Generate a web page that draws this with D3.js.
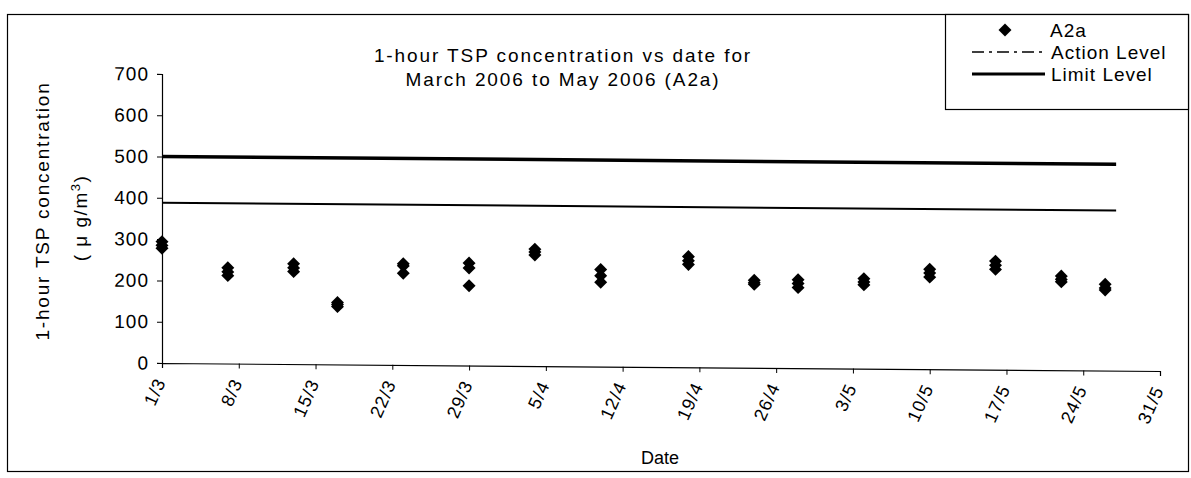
<!DOCTYPE html>
<html><head><meta charset="utf-8">
<script src="https://cdn.jsdelivr.net/npm/d3@7"></script>
<style>
body{margin:0;background:#fff}
svg text{font-family:"Liberation Sans",Arial,sans-serif;fill:#000}
</style>
</head><body><svg id="c" width="1191" height="478"></svg>
<script>
// ---- data ----
const dates = ["2006-03-01","2006-03-07","2006-03-13","2006-03-17","2006-03-23","2006-03-29","2006-04-04","2006-04-10","2006-04-18","2006-04-24","2006-04-28","2006-05-04","2006-05-10","2006-05-16","2006-05-22","2006-05-26"];
const reading1 = [294,232,243,150,245,248,283,235,268,212,214,218,242,263,228,209];
const reading2 = [285,222,233,145,240,236,276,220,258,206,205,210,233,253,220,200];
const reading3 = [278,213,224,140,222,193,269,204,249,202,195,203,223,243,214,195];
const levelDates = ["2006-03-01","2006-05-27"];
const actionLevel = [388,388];
const limitLevel = [500,500];
const xTickDates = ["2006-03-01","2006-03-08","2006-03-15","2006-03-22","2006-03-29","2006-04-05","2006-04-12","2006-04-19","2006-04-26","2006-05-03","2006-05-10","2006-05-17","2006-05-24","2006-05-31"];
const yTicks = [0,100,200,300,400,500,600,700];
const titleLines = ["1-hour TSP concentration vs date for","March 2006 to May 2006 (A2a)"];
const legendNames = ["A2a","Action Level","Limit Level"];

// ---- chart ----
const svg = d3.select("#c");
const parse = d3.utcParse("%Y-%m-%d");

svg.append("rect").attr("x",7.5).attr("y",14.5).attr("width",1181).attr("height",457)
  .attr("fill","none").attr("stroke","#000").attr("stroke-width",1.2);

const x = d3.scaleUtc().domain([parse("2006-03-01"), parse("2006-05-31")]).range([162,1160]);
const y = d3.scaleLinear().domain([0,700]).range([363,74]);

const plot = svg.append("g").attr("transform","translate(162,0) skewY(0.46) translate(-162,0)");

const yAxis = plot.append("g").attr("transform","translate(162,0)")
  .call(d3.axisLeft(y).tickValues(yTicks).tickSize(5).tickPadding(8));
yAxis.selectAll("text").style("font-size","19px").style("letter-spacing","1px");

const xAxis = plot.append("g").attr("transform","translate(0,363)")
  .call(d3.axisBottom(x).tickValues(xTickDates.map(parse)).tickFormat(d3.utcFormat("%-d/%-m")).tickSize(5));
xAxis.selectAll("text").attr("x",0).attr("y",0).attr("dy","0.35em")
  .attr("text-anchor","end").attr("transform","translate(-2,16) rotate(-66)")
  .style("font-size","18px").style("letter-spacing","1px");
plot.selectAll(".domain").attr("stroke","#000").attr("stroke-width",1.2);
plot.selectAll(".tick line").attr("stroke","#000");

const line = d3.line().x(d=>x(parse(d[0]))).y(d=>y(d[1]));
plot.append("path").attr("d", line(levelDates.map((d,i)=>[d,limitLevel[i]])))
  .attr("fill","none").attr("stroke","#000").attr("stroke-width",3.5);
plot.append("path").attr("d", line(levelDates.map((d,i)=>[d,actionLevel[i]])))
  .attr("fill","none").attr("stroke","#000").attr("stroke-width",2);

const diamondType = {draw(ctx,size){const r=Math.sqrt(size/2);ctx.moveTo(0,-r);ctx.lineTo(r,0);ctx.lineTo(0,r);ctx.lineTo(-r,0);ctx.closePath();}};
const diamond = d3.symbol().type(diamondType).size(84);
const pts = [];
dates.forEach((d,i)=>{[reading1,reading2,reading3].forEach(r=>pts.push({d:parse(d),v:r[i]}));});
plot.selectAll("path.pt").data(pts).join("path").attr("class","pt")
  .attr("d",diamond).attr("fill","#000")
  .attr("transform",p=>`translate(${x(p.d)},${y(p.v)})`);

// title
svg.append("g").selectAll("text").data(titleLines).join("text")
  .attr("x",563).attr("y",(d,i)=>62+i*24).attr("text-anchor","middle")
  .style("font-size","19px").style("letter-spacing","1.9px").text(d=>d);

// y title
svg.append("text").attr("transform","translate(49,211) rotate(-90)").attr("text-anchor","middle")
  .style("font-size","19px").style("letter-spacing","1.8px").text("1-hour TSP concentration");
const yt2 = svg.append("text").attr("transform","translate(87,218) rotate(-90)").attr("text-anchor","middle")
  .style("font-size","19px").style("letter-spacing","1.5px");
yt2.append("tspan").text("( \u03bc g/m");
yt2.append("tspan").attr("dy","-7").style("font-size","13px").text("3");
yt2.append("tspan").attr("dy","7").text(")");

// x title
svg.append("text").attr("x",660).attr("y",464).attr("text-anchor","middle")
  .style("font-size","18px").text("Date");

// legend
const lg = svg.append("g");
lg.append("rect").attr("x",945.5).attr("y",14.5).attr("width",243).attr("height",95)
  .attr("fill","#fff").attr("stroke","#000").attr("stroke-width",1.2);
lg.append("path").attr("d",diamond).attr("fill","#000").attr("transform","translate(1005,30)");
lg.append("line").attr("x1",972).attr("x2",1045).attr("y1",52).attr("y2",52)
  .attr("stroke","#000").attr("stroke-width",1.5).attr("stroke-dasharray","12,5,3,5");
lg.append("line").attr("x1",972).attr("x2",1045).attr("y1",74).attr("y2",74)
  .attr("stroke","#000").attr("stroke-width",3);
lg.selectAll("text.lt").data(legendNames).join("text").attr("class","lt")
  .attr("x",(d,i)=>i===0?1050:1051).attr("y",(d,i)=>37+i*22)
  .style("font-size","19px").style("letter-spacing","1px").text(d=>d);
</script></body></html>
